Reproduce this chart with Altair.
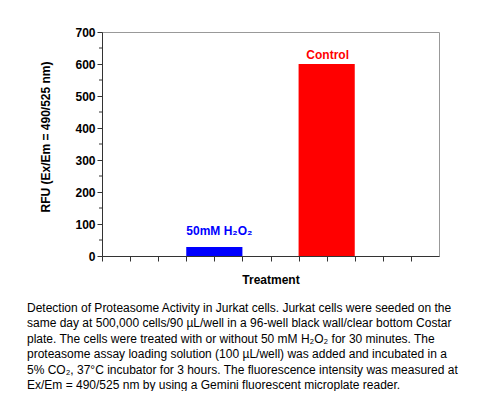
import altair as alt
import pandas as pd

# ---- data ----
treatments = ["50mM H\u2082O\u2082", "Control"]
rfu_values = [28, 600]
bar_start = [3, 7]
bar_end = [5, 9]
bar_colors = ["#0000ff", "#ff0000"]

y_major_ticks = [0, 100, 200, 300, 400, 500, 600, 700]
y_minor_ticks = [50, 150, 250, 350, 450, 550, 650]
x_ticks = list(range(0, 12))

caption_lines = [
    "Detection of Proteasome Activity in Jurkat cells. Jurkat cells were seeded on the",
    "same day at 500,000 cells/90 \u00b5L/well  in a 96-well black wall/clear bottom Costar",
    "plate. The cells were treated with or without 50 mM H\u2082O\u2082 for 30 minutes. The",
    "proteasome assay loading solution  (100 \u00b5L/well) was added and incubated in a",
    "5% CO\u2082, 37\u00b0C incubator for 3 hours. The fluorescence intensity was measured at",
    "Ex/Em = 490/525 nm by using  a Gemini fluorescent microplate reader.",
]

df = pd.DataFrame({
    "treatment": treatments,
    "rfu": rfu_values,
    "x0": bar_start,
    "x1": bar_end,
    "color": bar_colors,
})
minor_df = pd.DataFrame({"tick": y_minor_ticks})
cap_df = pd.DataFrame({"caption": ["\n".join(caption_lines)]})

FONT = "Liberation Sans"
AX = "#333333"

xscale = alt.Scale(domain=[0, 12], nice=False, zero=False)
yscale = alt.Scale(domain=[0, 700], nice=False)

x_axis = alt.Axis(
    values=x_ticks, labels=False, tickSize=5, tickColor=AX, domainColor=AX,
    grid=False, title="Treatment", titleFont=FONT, titleFontSize=12,
    titleFontWeight="bold", titleColor="black", titleX=168.5, titleY=23,
    titleBaseline="middle", titleAlign="center")
y_axis = alt.Axis(
    values=y_major_ticks, tickSize=5, tickColor=AX, domainColor=AX, grid=False,
    labelFont=FONT, labelFontSize=12, labelFontWeight="bold", labelColor="black",
    labelPadding=2, labelOverlap=False, labelFlush=False,
    title="RFU (Ex/Em = 490/525 nm)", titleFont=FONT, titleFontSize=12,
    titleFontWeight="bold", titleColor="black", titleX=-57, titleY=104.5,
    titleAngle=-90, titleBaseline="middle", titleAlign="center")

bars = alt.Chart(df).mark_bar(stroke=None).encode(
    x=alt.X("x0:Q", scale=xscale, axis=x_axis),
    x2="x1:Q",
    y=alt.Y("rfu:Q", scale=yscale, axis=y_axis),
    y2=alt.datum(0),
    color=alt.Color("color:N", scale=None),
)

minor = alt.Chart(minor_df).mark_rule(color=AX, strokeWidth=1).encode(
    x=alt.value(-3), x2=alt.value(0),
    y=alt.Y("tick:Q", scale=yscale, axis=y_axis),
)

lab_blue = alt.Chart(df).transform_filter(alt.datum.treatment != "Control").transform_calculate(
    xc="(datum.x0 + datum.x1) / 2").mark_text(
    font=FONT, fontSize=12, fontWeight="bold", baseline="alphabetic", align="center",
    dy=-12, dx=5).encode(
    x=alt.X("xc:Q", scale=xscale, axis=x_axis), y=alt.Y("rfu:Q", scale=yscale, axis=y_axis),
    text="treatment:N", color=alt.Color("color:N", scale=None),
)

lab_red = alt.Chart(df).transform_filter(alt.datum.treatment == "Control").transform_calculate(
    xc="(datum.x0 + datum.x1) / 2").mark_text(
    font=FONT, fontSize=12, fontWeight="bold", baseline="alphabetic", align="center",
    dy=-5.5, dx=1).encode(
    x=alt.X("xc:Q", scale=xscale, axis=x_axis), y=alt.Y("rfu:Q", scale=yscale, axis=y_axis),
    text="treatment:N", color=alt.Color("color:N", scale=None),
)

caption = alt.Chart(cap_df).mark_text(
    font=FONT, fontSize=12, align="left", baseline="top", lineBreak="\n",
    lineHeight=15.4, color="black").encode(
    x=alt.value(-75), y=alt.value(271), text="caption:N")

chart = alt.layer(bars, minor, lab_blue, lab_red, caption).properties(
    width=337, height=224,
    autosize=alt.AutoSizeParams(type="none"),
    padding={"left": 94, "top": 24, "right": 53, "bottom": 135},
    background="white",
).configure_view(stroke="#999999", strokeWidth=1)

chart.save("out.html", embed_options={"renderer": "svg", "actions": False})
